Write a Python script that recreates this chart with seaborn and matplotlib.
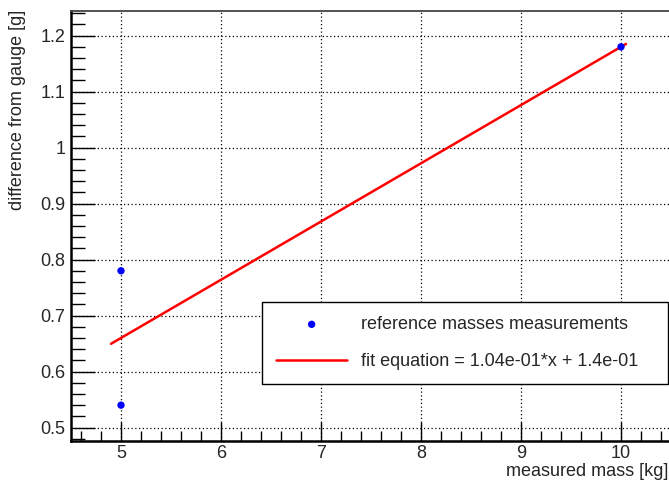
import matplotlib
matplotlib.use("Agg")
import matplotlib.pyplot as plt
import numpy as np
import pandas as pd
import seaborn as sns
from matplotlib.ticker import MultipleLocator

# measurements
mass = [5, 5, 10]
diff = [0.78, 0.54, 1.18]

# fit result
slope = 1.04e-01
intercept = 1.4e-01
fit_x = [4.9, 10.05]

sns.set_style("white")
plt.rcParams['font.family'] = ['Liberation Sans', 'DejaVu Sans']

df = pd.DataFrame({'mass': mass, 'diff': diff})
fit_df = pd.DataFrame({'x': fit_x, 'y': [slope * x + intercept for x in fit_x]})

fig = plt.figure(figsize=(6.69, 4.83), dpi=100)
W, H = 669, 483
ax = fig.add_axes([71 / W, (H - 441) / H, 600 / W, 430 / H])

sns.lineplot(data=fit_df, x='x', y='y', ax=ax, color='red', linewidth=1.8,
             label='fit equation = 1.04e-01*x + 1.4e-01')
sns.scatterplot(data=df, x='mass', y='diff', ax=ax, color='blue', s=28,
                edgecolor='none', label='reference masses measurements', zorder=3)

ax.set_xlim(4.5, 10.5)
ax.set_ylim(0.476, 1.244)
ax.xaxis.set_major_locator(MultipleLocator(1))
ax.xaxis.set_minor_locator(MultipleLocator(0.2))
ax.yaxis.set_major_locator(MultipleLocator(0.1))
ax.yaxis.set_minor_locator(MultipleLocator(0.02))
ax.yaxis.set_major_formatter(plt.FuncFormatter(lambda v, p: f"{v:g}"))
ax.tick_params(which='both', direction='in', width=1, labelsize=13,
               top=False, right=False, left=True, bottom=True, color='black')
ax.tick_params(axis='x', which='major', length=14, pad=3)
ax.tick_params(axis='x', which='minor', length=7)
ax.tick_params(axis='y', which='major', length=17, pad=4)
ax.tick_params(axis='y', which='minor', length=10)
ax.grid(True, which='major', linestyle=(0, (1, 2)), color='black', linewidth=0.9)
for s in ['left', 'bottom']:
    ax.spines[s].set_color('black')
    ax.spines[s].set_linewidth(1.8)
ax.spines['top'].set_color('#444444')
ax.spines['top'].set_linewidth(1.3)
ax.spines['right'].set_visible(False)

ax.set_xlabel('')
ax.set_ylabel('')
fig.text(668 / W, 1 - 476 / H, 'measured mass [kg]', ha='right', va='baseline', fontsize=13)
fig.text(18 / W, 1 - 10 / H, 'difference from gauge [g]', ha='center', va='top',
         rotation=90, fontsize=13)

handles, labels = ax.get_legend_handles_labels()
order = [1, 0]
leg = ax.legend([handles[i] for i in order], [labels[i] for i in order],
                bbox_to_anchor=(262 / W, 1 - 383 / H, 406 / W, 80 / H),
                bbox_transform=fig.transFigure, loc='center', mode='expand',
                borderaxespad=0, fontsize=13, frameon=True, fancybox=False,
                edgecolor='black', framealpha=1, handlelength=3.9,
                handletextpad=0.8, labelspacing=1.1, borderpad=0.8)
leg.get_frame().set_linewidth(1.0)

fig.savefig('out.png', dpi=100)
